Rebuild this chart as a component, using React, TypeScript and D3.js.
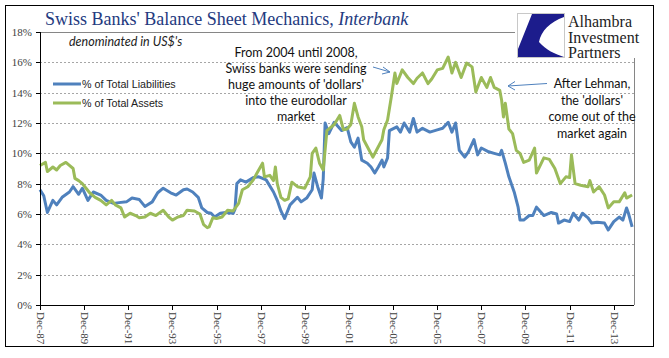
import React from "react";
import * as d3 from "d3";

// Month offsets from Dec-1987 and values (%)
const liabMonths = [0,2,4,7,9,12,16,18,21,23,26,29,33,36,40,43,47,50,54,57,61,64,67,71,74,78,80,83,86,88,91,93,95,98,101,105,106,107,109,112,116,119,123,127,129,131,133,136,140,142,145,148,149,151,153,154,155,157,160,164,167,169,171,173,175,178,180,182,184,186,187,189,190,194,196,198,201,203,205,208,212,216,219,222,224,226,228,231,233,236,238,240,244,247,250,251,253,255,258,260,261,263,266,268,270,274,278,281,282,285,288,290,293,295,298,300,303,307,309,312,315,317,319,320,322];
const liabValues = [7.6,7.2,6.1,6.9,6.6,7.1,7.45,7.8,7.3,7.7,6.9,7.45,7.25,6.9,6.7,6.75,6.8,7.05,6.95,6.5,6.8,7.4,7.7,7.4,7.25,7.6,7.65,7.45,7.1,6.4,6.1,6.05,5.8,6.05,6.1,6.05,6.3,8.0,8.25,8.1,8.4,8.45,8.25,7.45,6.9,6.2,5.7,6.6,7.1,6.8,7.05,7.6,8.7,7.8,7.05,8.3,12.0,11.3,12.05,11.5,11.7,10.75,10.4,11.0,9.55,9.35,9.1,8.7,9.1,9.55,9.1,9.7,11.5,11.75,11.4,12.0,11.4,12.3,11.4,11.65,11.4,11.55,11.65,12.05,11.4,12.0,10.2,9.75,10.1,10.9,9.9,10.35,10.1,10.0,9.9,10.2,9.35,8.45,7.4,6.45,5.6,5.6,5.9,5.9,6.45,5.9,6.1,6.0,5.4,5.6,5.5,6.05,5.6,6.05,5.75,5.4,5.45,5.4,4.95,5.5,5.8,5.6,6.4,6.05,5.15];

const assetMonths = [0,3,4,7,9,11,14,16,18,19,21,23,25,27,30,33,36,39,41,44,46,49,52,54,57,60,63,67,70,72,75,78,80,84,87,89,91,92,94,96,99,102,105,108,110,113,116,118,121,122,125,127,128,129,131,133,135,137,140,144,147,148,150,152,154,156,160,163,165,167,169,171,173,175,176,179,181,183,186,187,189,191,193,194,197,200,203,205,208,211,213,216,219,222,224,226,229,232,235,237,240,243,245,247,250,251,252,253,255,257,259,261,263,266,269,270,274,277,280,283,286,288,289,291,294,298,299,301,304,307,309,312,315,318,319,322];
const assetValues = [9.2,9.4,8.8,9.1,8.9,9.2,9.4,9.2,9.0,8.35,8.2,8.0,7.7,7.4,7.1,6.9,6.6,6.9,6.6,6.4,5.8,6.05,5.9,5.75,5.8,6.05,5.9,6.25,5.8,5.6,5.8,5.9,6.25,6.2,6.0,5.3,5.1,5.15,5.75,5.7,5.8,6.25,6.2,6.7,7.6,7.8,8.25,8.7,9.35,8.45,8.55,8.2,9.1,8.0,7.1,6.9,7.0,8.1,7.8,7.7,8.45,10.0,10.35,9.35,8.9,11.5,11.9,12.5,11.55,11.6,11.9,13.3,12.4,11.75,10.9,10.2,9.75,10.2,10.9,11.55,12.2,13.7,15.3,14.6,15.5,15.0,14.6,14.95,15.3,14.6,14.9,15.5,15.6,16.35,15.3,16.0,15.0,15.95,15.7,14.05,15.0,14.35,15.0,14.35,14.15,13.5,12.4,13.3,11.6,11.3,10.2,10.0,9.4,9.55,10.35,8.7,9.7,9.6,9.0,8.0,8.45,8.4,9.9,8.0,7.9,7.8,8.2,7.45,7.8,7.25,6.4,6.8,6.8,7.4,7.05,7.25];

const yTicks = [0, 2, 4, 6, 8, 10, 12, 14, 16, 18];
const xTickYears = [1987, 1989, 1991, 1993, 1995, 1997, 1999, 2001, 2003, 2005, 2007, 2009, 2011, 2013];
const seriesNames = ["% of Total Liabilities", "% of Total Assets"];
const seriesColors = ["#4F81BD", "#9BBB59"];
const leftNote = ["From 2004 until 2008,", "Swiss banks were sending", "huge amounts of 'dollars'", "into the eurodollar", "market"];
const rightNote = ["After Lehman,", "the 'dollars'", "come out of the", "market again"];
const logoLines = ["Alhambra", "Investment", "Partners"];

const W = 669, H = 358;
const PL = 40, PR = 634, PT = 32, PB = 305;

const monthDate = (m: number) => new Date(1987, 11 + m, 1);

export default function App() {
  const x = d3.scaleTime().domain([new Date(1987, 11, 1), new Date(2014, 10, 1)]).range([PL, PR]);
  const y = d3.scaleLinear().domain([0, 18]).range([PB, PT]);
  const line = d3.line<[number, number]>()
    .x((d) => x(monthDate(d[0])))
    .y((d) => y(d[1]));
  const liab: [number, number][] = liabMonths.map((m, i) => [m, liabValues[i]]);
  const asset: [number, number][] = assetMonths.map((m, i) => [m, assetValues[i]]);
  const serif = "'Liberation Serif', 'Times New Roman', serif";
  const sans = "Lato, 'Open Sans', sans-serif";
  const arial = "'Liberation Sans', Arial, sans-serif";

  return (
    <svg width={W} height={H} style={{ position: "absolute", left: 0, top: 0, background: "#fff" }}>
      <rect x={0} y={0} width={W} height={H} fill="#fff" />
      <rect x={5.5} y={5.5} width={648} height={341} fill="none" stroke="#000" strokeWidth={1} />
      {/* grid */}
      {yTicks.filter((t) => t > 0 && t < 18).map((t) => (
        <line key={t} x1={PL} x2={PR} y1={Math.round(y(t)) + 0.5} y2={Math.round(y(t)) + 0.5}
          stroke="#a6a6a6" strokeWidth={1} strokeDasharray="2,2" />
      ))}
      {/* plot border top/right */}
      <line x1={PL} x2={PR} y1={PT + 0.5} y2={PT + 0.5} stroke="#868686" />
      <line x1={PR + 0.5} x2={PR + 0.5} y1={PT} y2={PB} stroke="#868686" />
      {/* lines */}
      <path d={line(liab) || ""} fill="none" stroke={seriesColors[0]} strokeWidth={3} strokeLinejoin="round" />
      <path d={line(asset) || ""} fill="none" stroke={seriesColors[1]} strokeWidth={3} strokeLinejoin="round" />
      {/* axes */}
      <line x1={PL + 0.5} x2={PL + 0.5} y1={PT} y2={PB} stroke="#000" />
      <line x1={PL} x2={PR} y1={PB + 0.5} y2={PB + 0.5} stroke="#000" />
      {yTicks.map((t) => (
        <g key={t}>
          <line x1={PL - 4} x2={PL} y1={Math.round(y(t)) + 0.5} y2={Math.round(y(t)) + 0.5} stroke="#000" />
          <text x={32} y={y(t) + 4} textAnchor="end" fontFamily={serif} fontSize={11} fill="#404040">{t}%</text>
        </g>
      ))}
      {xTickYears.map((yr) => {
        const xx = Math.round(x(new Date(yr, 11, 1))) + 0.5;
        return (
          <g key={yr}>
            <line x1={xx} x2={xx} y1={PB} y2={PB + 5} stroke="#000" />
            <text transform={`translate(${xx - 4},${PB + 7}) rotate(90)`} fontFamily={serif} fontSize={11} fill="#404040">
              {`Dec-${String(yr % 100).padStart(2, "0")}`}
            </text>
          </g>
        );
      })}
      {/* title */}
      <text x={45} y={25} fontFamily={serif} fontSize={18} fill="#243A80">
        Swiss Banks' Balance Sheet Mechanics, <tspan fontStyle="italic">Interbank</tspan>
      </text>
      <text x={69} y={46} fontFamily={sans} fontStyle="italic" fontSize={12.5} fill="#222">denominated in US$'s</text>
      {/* legend */}
      {seriesNames.map((n, i) => (
        <g key={n}>
          <line x1={53} x2={81} y1={84 + i * 19} y2={84 + i * 19} stroke={seriesColors[i]} strokeWidth={3} />
          <text x={82} y={88 + i * 19} fontFamily={arial} fontSize={10.7} fill="#222">{n}</text>
        </g>
      ))}
      {/* annotations */}
      {leftNote.map((s, i) => (
        <text key={s} x={296} y={57 + i * 16} textAnchor="middle" fontFamily={sans} fontSize={12.5} fill="#111">{s}</text>
      ))}
      {rightNote.map((s, i) => (
        <text key={s} x={592} y={88 + i * 16.5} textAnchor="middle" fontFamily={sans} fontSize={12.5} fill="#111">{s}</text>
      ))}
      <g stroke="#4F81BD" strokeWidth={1} fill="none">
        <line x1={373} y1={67} x2={390} y2={72} />
        <polyline points="383,67 390,72 382,74" />
        <line x1={547} y1={83.5} x2={508} y2={86} />
        <polyline points="515,81.5 508,86 515,90" />
      </g>
      {/* logo */}
      <rect x={515} y={8} width={126} height={50} fill="#fff" />
      <rect x={517.5} y={13.5} width={47} height={44} fill="#fff" stroke="#c8c8c8" />
      <path d="M532,14 L564,14 L564,17 C550,22 541,31 539,42 C546,50 555,54 564,57 L518,57 L518,49 Z" fill="#1c1c8c" />
      {logoLines.map((s, i) => (
        <text key={s} x={568} y={27 + i * 15.5} fontFamily={serif} fontSize={16} fill="#222">{s}</text>
      ))}
    </svg>
  );
}
